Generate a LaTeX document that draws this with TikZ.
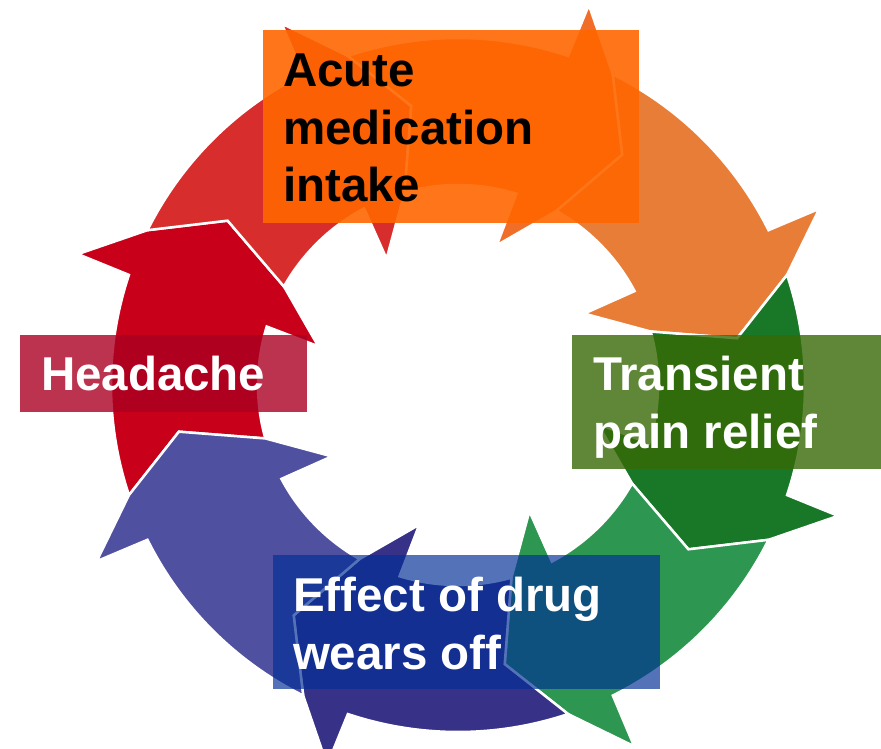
\documentclass[tikz,border=0pt]{standalone}
\usepackage{fontspec}
\setmainfont{Liberation Sans}
\definecolor{redDark}{HTML}{C80019}
\definecolor{redLight}{HTML}{D72D2D}
\definecolor{orangeDark}{HTML}{F06E28}
\definecolor{orangeLight}{HTML}{E87D37}
\definecolor{greenDark}{HTML}{197828}
\definecolor{greenLight}{HTML}{2D9650}
\definecolor{blueDark}{HTML}{373287}
\definecolor{bluePurple}{HTML}{5050A0}
\definecolor{boxOrange}{HTML}{FF6600}
\definecolor{boxRed}{HTML}{AA0022}
\definecolor{boxGreen}{HTML}{376905}
\definecolor{boxBlue}{HTML}{002E96}
\tikzset{
  cycarrow/.style={fill=#1, draw=white, line width=2.5pt, line join=miter},
  labelbox/.style={fill=#1, draw=none, inner sep=0pt, outer sep=0pt, anchor=south west},
  labeltext/.style={text=#1, font=\bfseries\fontsize{47.5}{57.5}\selectfont, anchor=base west, inner sep=0pt, outer sep=0pt}
}
\newcommand\cycArrow[2]{%
  \pgfmathsetmacro\cyTo{#1+36.5}%
  \pgfmathsetmacro\cyHo{#1-0.5}%
  \pgfmathsetmacro\cyBo{#1-1}%
  \pgfmathsetmacro\cyNo{#1-8.5}%
  \pgfmathsetmacro\cyTip{#1-17.5}%
  \pgfmathsetmacro\cyNi{#1-11.5}%
  \pgfmathsetmacro\cyBi{#1+2.5}%
  \pgfmathsetmacro\cyHi{#1+1}%
  \pgfmathsetmacro\cyTi{#1+33.5}%
  \pgfmathsetmacro\cyNotch{#1+27.5}%
  \path[cycarrow=#2] (\cyTo:347) arc[start angle=\cyTo, end angle=\cyHo, radius=347]
    -- (\cyBo:402) -- (\cyNo:347) -- (\cyTip:283) -- (\cyNi:200) -- (\cyBi:145)
    -- (\cyHi:200) arc[start angle=\cyHi, end angle=\cyTi, radius=200]
    -- (\cyNotch:283) -- cycle;
}
\begin{document}
\begin{tikzpicture}[x=1pt,y=1pt]
\useasboundingbox (0,0) rectangle (881,749);
\clip (0,0) rectangle (881,749);
\fill[white] (0,0) rectangle (881,749);
\begin{scope}[shift={(458,364)}]
  \cycArrow{162}{redDark}
  \cycArrow{117}{redLight}
  \cycArrow{72}{orangeDark}
  \cycArrow{27}{orangeLight}
  \cycArrow{-18}{greenDark}
  \cycArrow{-63}{greenLight}
  \cycArrow{-108}{blueDark}
  \cycArrow{-153}{bluePurple}
\end{scope}
% label boxes
\node[labelbox=boxOrange, fill opacity=0.9, minimum width=376pt, minimum height=193pt] (acutebox) at (263,526) {};
\node[labelbox=boxRed, fill opacity=0.8, minimum width=287pt, minimum height=77pt] (headbox) at (20,337) {};
\node[labelbox=boxGreen, fill opacity=0.8, minimum width=320pt, minimum height=134pt] (reliefbox) at (572,280) {};
\node[labelbox=boxBlue, fill opacity=0.67, minimum width=387pt, minimum height=134pt] (effectbox) at (273,60) {};
% texts
\node[labeltext=black] (acute) at (283,662) {\vtop{\hbox{Acute}\hbox{medication}\hbox{intake}}};
\node[labeltext=white] (headache) at (41,358) {Headache};
\node[labeltext=white] (relief) at (593,358) {\vtop{\hbox{Transient}\hbox{pain relief}}};
\node[labeltext=white] (effect) at (293,137) {\vtop{\hbox{Effect of drug}\hbox{wears off}}};
\end{tikzpicture}
\end{document}
